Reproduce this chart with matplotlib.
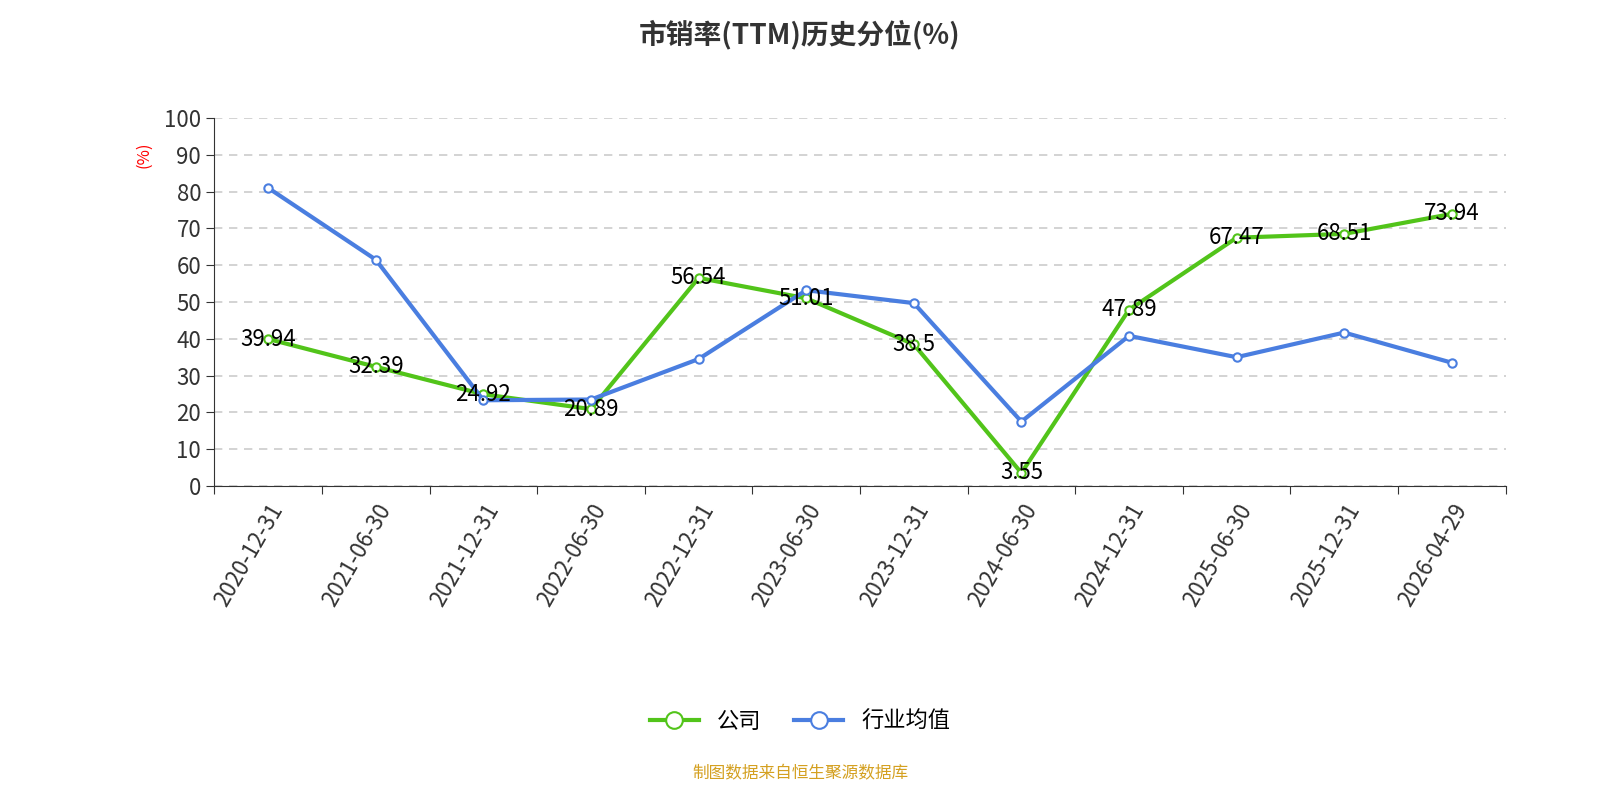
import matplotlib.pyplot as plt
import numpy as np

plt.rcParams['font.family'] = ['Noto Sans CJK SC', 'DejaVu Sans']

dates = ["2020-12-31", "2021-06-30", "2021-12-31", "2022-06-30", "2022-12-31", "2023-06-30",
         "2023-12-31", "2024-06-30", "2024-12-31", "2025-06-30", "2025-12-31", "2026-04-29"]
company = [39.94, 32.39, 24.92, 20.89, 56.54, 51.01, 38.5, 3.55, 47.89, 67.47, 68.51, 73.94]
industry = [81.0, 61.5, 23.3, 23.5, 34.5, 53.2, 49.7, 17.5, 40.8, 35.0, 41.7, 33.5]
company_labels = ["39.94", "32.39", "24.92", "20.89", "56.54", "51.01", "38.5", "3.55", "47.89", "67.47", "68.51", "73.94"]

green = "#52c41a"
blue = "#4a7ee0"

fig = plt.figure(figsize=(16, 8), dpi=100)
ax = fig.add_axes([0.134, 0.3925, 0.807, 0.46])

x = np.arange(len(dates))
ax.plot(x, company, color=green, lw=3, marker='o', ms=6, mfc='white', mec=green, mew=1.5, label="公司", zorder=3)
ax.plot(x, industry, color=blue, lw=3, marker='o', ms=6, mfc='white', mec=blue, mew=1.5, label="行业均值", zorder=3)
for xi, v, t in zip(x, company, company_labels):
    ax.text(xi, v, t, ha='center', va='center', fontsize=16, color='black', zorder=4)

ax.set_xlim(-0.5, len(dates) - 0.5)
ax.set_ylim(0, 100)
ax.set_yticks(range(0, 101, 10))
ax.set_xticks(np.arange(-0.5, len(dates), 1), minor=False)
ax.set_xticklabels([])
ax.set_xticks(x, minor=True)
ax.set_xticklabels(dates, minor=True, rotation=60, ha='right', rotation_mode='anchor', fontsize=16, color='#333333')
ax.tick_params(axis='x', which='minor', length=0, pad=10)
ax.tick_params(axis='x', which='major', length=6, color='#333333')
ax.tick_params(axis='y', labelsize=16, labelcolor='#333333', length=6, color='#333333')
ax.grid(axis='y', ls=(0, (5, 4)), color='#cccccc', lw=1.2)
for s in ['top', 'right']:
    ax.spines[s].set_visible(False)
ax.spines['left'].set_color('#333333')
ax.spines['bottom'].set_color('#333333')
ax.text(-0.055, 0.9, "(%)", transform=ax.transAxes, color='red', fontsize=12, rotation=90, ha='center', va='center')

fig.suptitle("市销率(TTM)历史分位(%)", y=0.975, fontsize=20, fontweight='bold', color='#333333')
fig.legend(loc='center', bbox_to_anchor=(0.5, 0.098), ncol=2, frameon=False, fontsize=16,
           handlelength=2.2, markerscale=2, columnspacing=1.5)
fig.text(0.5, 0.033, "制图数据来自恒生聚源数据库", ha='center', va='center', fontsize=12, color='#d4a020')

fig.savefig("out.png")
